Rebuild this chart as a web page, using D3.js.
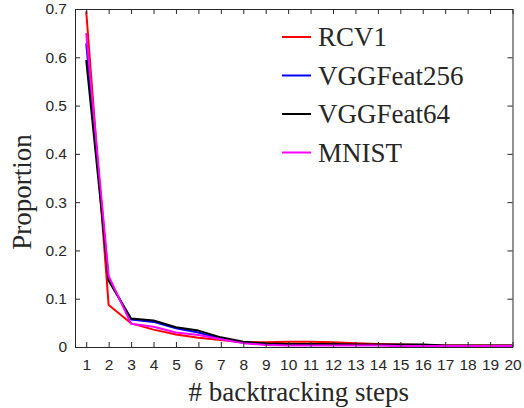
<!DOCTYPE html>
<html>
<head>
<meta charset="utf-8">
<script src="https://cdn.jsdelivr.net/npm/d3@7"></script>
<style>
  body { margin: 0; background: #fff; }
  svg { display: block; }
</style>
</head>
<body>
<div id="chart"></div>
<script>
// backtracking steps and proportion per dataset
var steps = d3.range(1, 21);
var seriesNames = ["RCV1", "VGGFeat256", "VGGFeat64", "MNIST"];
var seriesColors = ["#ff0000", "#0000ff", "#000000", "#ff00ff"];
var rcv1 = [0.695,0.087,0.049,0.036,0.026,0.019,0.0145,0.010,0.010,0.011,0.011,0.010,0.008,0.006,0.005,0.004,0.003,0.003,0.003,0.003];
var vgg256 = [0.629,0.140,0.057,0.052,0.039,0.030,0.017,0.009,0.006,0.005,0.005,0.004,0.004,0.004,0.003,0.003,0.002,0.002,0.002,0.002];
var vgg64 = [0.594,0.137,0.059,0.055,0.041,0.034,0.020,0.011,0.007,0.006,0.006,0.006,0.005,0.005,0.005,0.005,0.003,0.003,0.003,0.003];
var mnist = [0.650,0.147,0.048,0.042,0.030,0.025,0.016,0.008,0.004,0.003,0.003,0.003,0.003,0.003,0.002,0.002,0.002,0.002,0.002,0.002];
var yTicks = [0, 0.1, 0.2, 0.3, 0.4, 0.5, 0.6, 0.7];

var width = 524, height = 408;
var margin = {left: 75, right: 11.5, top: 9, bottom: 61};
var serif = "'Liberation Serif', 'Times New Roman', 'DejaVu Serif', serif";
var sans = "'Liberation Sans', Arial, Helvetica, sans-serif";

var svg = d3.select("#chart")
  .append("svg")
  .attr("width", width)
  .attr("height", height);

var x = d3.scaleLinear().domain([0.5, 20]).range([margin.left, width - margin.right]);
var y = d3.scaleLinear().domain([0, 0.7]).range([height - margin.bottom, margin.top]);

var allSeries = [rcv1, vgg256, vgg64, mnist];

// lines first, frame on top
var line = d3.line()
  .x(function(d, i) { return x(steps[i]); })
  .y(function(d) { return y(d); });

svg.append("defs").append("clipPath").attr("id", "clip")
  .append("rect")
  .attr("x", margin.left).attr("y", margin.top)
  .attr("width", width - margin.right - margin.left)
  .attr("height", height - margin.bottom - margin.top);

svg.append("g").attr("clip-path", "url(#clip)")
  .selectAll("path")
  .data(allSeries)
  .enter().append("path")
  .attr("d", line)
  .attr("fill", "none")
  .attr("stroke", function(d, i) { return seriesColors[i]; })
  .attr("stroke-width", 2)
  .attr("stroke-linejoin", "round");

// axes, ticks pointing inward on every side
svg.append("g")
  .attr("transform", "translate(0," + y(0) + ")")
  .call(d3.axisBottom(x).tickValues(steps).tickSizeInner(-5).tickSizeOuter(0).tickPadding(12));
svg.append("g")
  .attr("transform", "translate(0," + y(0.7) + ")")
  .call(d3.axisTop(x).tickValues(steps).tickSizeInner(-5).tickSizeOuter(0).tickFormat(""));
svg.append("g")
  .attr("transform", "translate(" + x(0.5) + ",0)")
  .call(d3.axisLeft(y).tickValues(yTicks).tickSizeInner(-5).tickSizeOuter(0).tickPadding(8)
    .tickFormat(function(d) { return d === 0 ? "0" : d3.format(".1f")(d); }));
svg.append("g")
  .attr("transform", "translate(" + x(20) + ",0)")
  .call(d3.axisRight(y).tickValues(yTicks).tickSizeInner(-5).tickSizeOuter(0).tickFormat(""));

svg.selectAll(".domain").attr("stroke", "#262626");
svg.selectAll(".tick line").attr("stroke", "#262626");
svg.selectAll(".tick text")
  .style("font-family", sans)
  .style("font-size", "15.5px")
  .attr("fill", "#262626");

// axis titles
svg.append("text")
  .attr("x", (x(0.5) + x(20)) / 2 + 5)
  .attr("y", 401)
  .attr("text-anchor", "middle")
  .style("font-family", serif)
  .style("font-size", "27px")
  .attr("fill", "#262626")
  .text("# backtracking steps");

svg.append("text")
  .attr("transform", "translate(31,192) rotate(-90)")
  .attr("text-anchor", "middle")
  .style("font-family", serif)
  .style("font-size", "27px")
  .attr("fill", "#262626")
  .text("Proportion");

// legend
var legend = svg.append("g")
  .selectAll("g")
  .data(seriesNames)
  .enter().append("g")
  .attr("transform", function(d, i) { return "translate(282," + (37 + i * 38.5) + ")"; });

legend.append("line")
  .attr("x1", 0).attr("x2", 29)
  .attr("stroke", function(d, i) { return seriesColors[i]; })
  .attr("stroke-width", 2);

legend.append("text")
  .attr("x", 36)
  .attr("y", 9)
  .style("font-family", serif)
  .style("font-size", "27px")
  .attr("fill", "#262626")
  .text(function(d) { return d; });
</script>
</body>
</html>
